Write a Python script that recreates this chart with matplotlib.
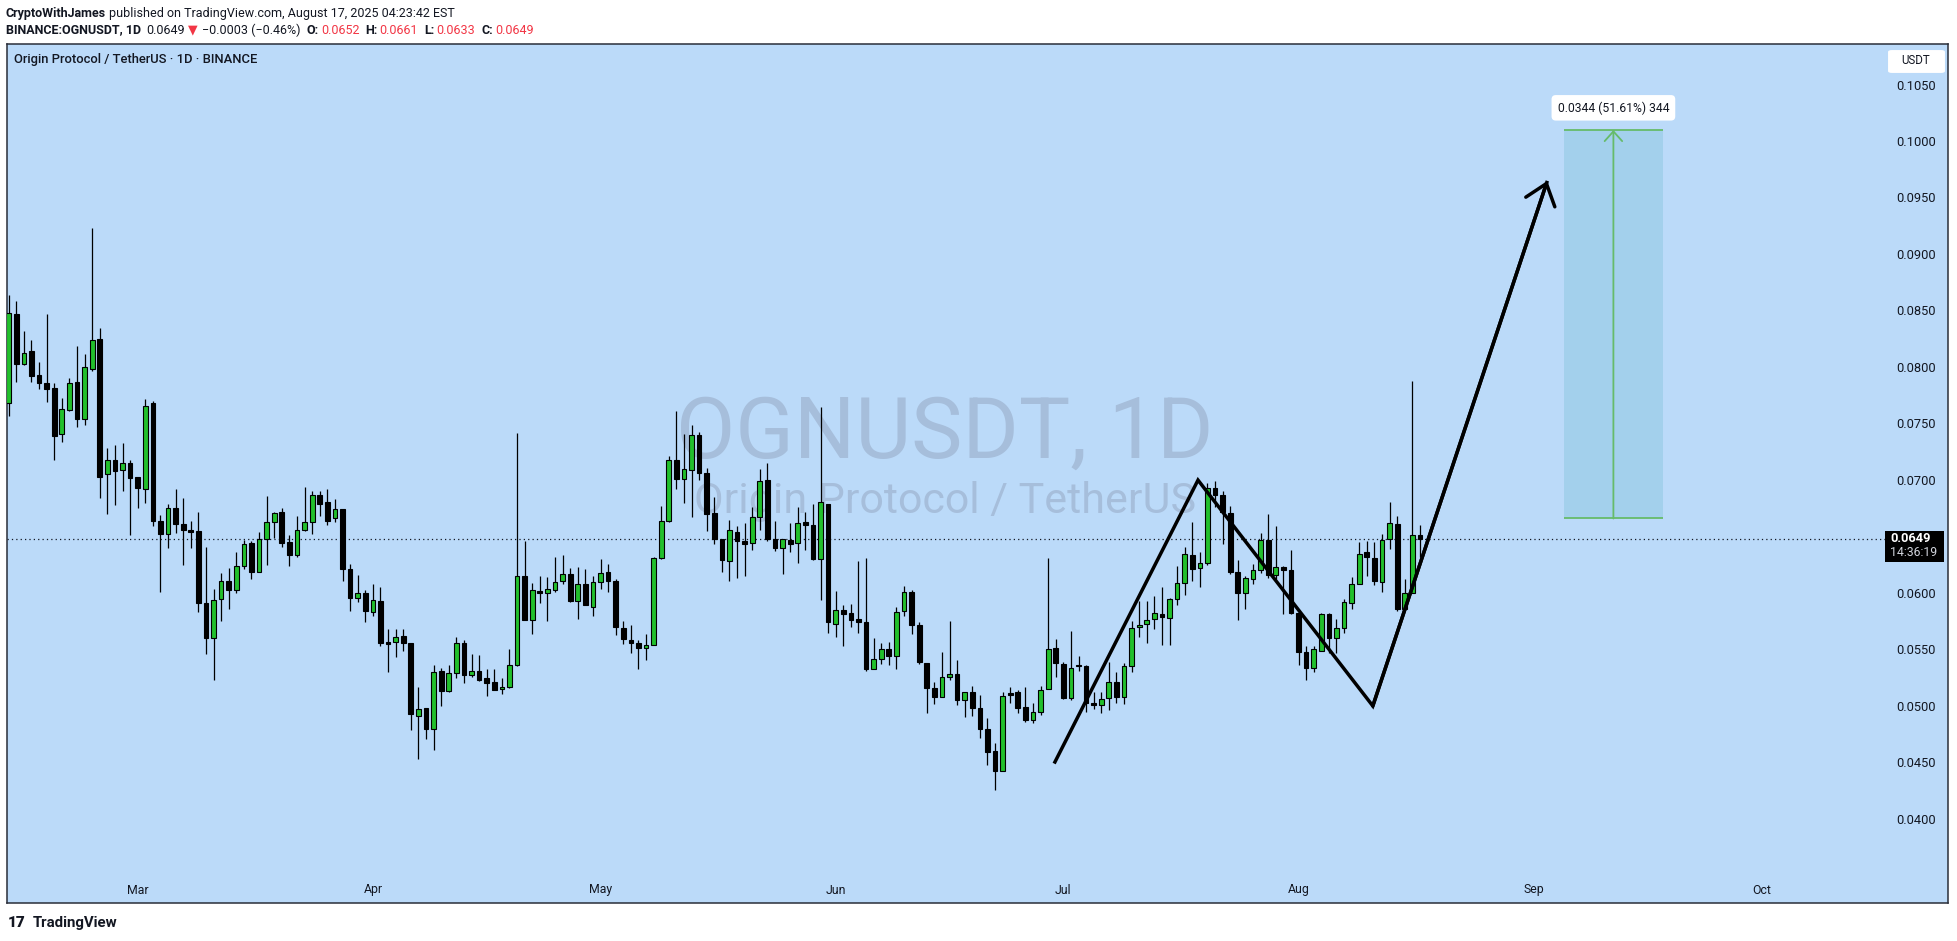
import matplotlib
matplotlib.use('Agg')
import matplotlib.pyplot as plt
import matplotlib.dates as mdates
from matplotlib.patches import Rectangle, FancyBboxPatch
from matplotlib.transforms import blended_transform_factory
import pandas as pd

# OGN/USDT diario (Binance) 12-feb-2025 .. 17-ago-2025
fechas = pd.date_range('2025-02-12', '2025-08-17', freq='D')

apertura = [0.0769, 0.0848, 0.0804, 0.0815, 0.0794, 0.0787, 0.0783, 0.0742, 0.0763, 0.0788,
            0.0755, 0.0799, 0.0826, 0.0706, 0.0719, 0.0710, 0.0716, 0.0704, 0.0693, 0.0769,
            0.0665, 0.0653, 0.0676, 0.0662, 0.0657, 0.0656, 0.0592, 0.0561, 0.0596, 0.0612,
            0.0604, 0.0625, 0.0645, 0.0620, 0.0649, 0.0664, 0.0673, 0.0646, 0.0635, 0.0657,
            0.0664, 0.0688, 0.0682, 0.0667, 0.0675, 0.0622, 0.0597, 0.0601, 0.0584, 0.0594,
            0.0558, 0.0558, 0.0563, 0.0557, 0.0492, 0.0499, 0.0481, 0.0532, 0.0514, 0.0530,
            0.0557, 0.0528, 0.0532, 0.0526, 0.0522, 0.0516, 0.0518, 0.0537, 0.0616, 0.0577,
            0.0603, 0.0601, 0.0604, 0.0612, 0.0618, 0.0594, 0.0609, 0.0589, 0.0611, 0.0620,
            0.0612, 0.0570, 0.0559, 0.0557, 0.0552, 0.0555, 0.0632, 0.0665, 0.0719, 0.0702,
            0.0710, 0.0741, 0.0707, 0.0672, 0.0649, 0.0629, 0.0655, 0.0647, 0.0645, 0.0668,
            0.0701, 0.0649, 0.0641, 0.0648, 0.0645, 0.0664, 0.0661, 0.0631, 0.0680, 0.0574,
            0.0586, 0.0583, 0.0578, 0.0575, 0.0534, 0.0543, 0.0551, 0.0545, 0.0585, 0.0602,
            0.0573, 0.0539, 0.0517, 0.0509, 0.0527, 0.0529, 0.0506, 0.0513, 0.0499, 0.0481,
            0.0461, 0.0443, 0.0512, 0.0513, 0.0500, 0.0489, 0.0496, 0.0516, 0.0552, 0.0538,
            0.0508, 0.0537, 0.0536, 0.0504, 0.0502, 0.0508, 0.0522, 0.0509, 0.0536, 0.0571,
            0.0574, 0.0578, 0.0582, 0.0579, 0.0596, 0.0610, 0.0635, 0.0623, 0.0628, 0.0694,
            0.0688, 0.0672, 0.0620, 0.0601, 0.0613, 0.0621, 0.0648, 0.0617, 0.0624, 0.0621,
            0.0583, 0.0549, 0.0535, 0.0550, 0.0582, 0.0561, 0.0570, 0.0592, 0.0609, 0.0637,
            0.0632, 0.0611, 0.0649, 0.0662, 0.0587, 0.0601, 0.0652]
maximo = [0.0865, 0.0860, 0.0833, 0.0825, 0.0806, 0.0848, 0.0787, 0.0774, 0.0791, 0.0820,
          0.0813, 0.0924, 0.0836, 0.0729, 0.0732, 0.0734, 0.0719, 0.0704, 0.0773, 0.0771,
          0.0670, 0.0680, 0.0693, 0.0685, 0.0665, 0.0673, 0.0642, 0.0605, 0.0619, 0.0623,
          0.0637, 0.0648, 0.0647, 0.0655, 0.0687, 0.0673, 0.0676, 0.0652, 0.0669, 0.0695,
          0.0691, 0.0691, 0.0693, 0.0684, 0.0675, 0.0627, 0.0617, 0.0604, 0.0609, 0.0606,
          0.0569, 0.0569, 0.0569, 0.0557, 0.0518, 0.0499, 0.0537, 0.0535, 0.0537, 0.0562,
          0.0559, 0.0547, 0.0546, 0.0534, 0.0534, 0.0526, 0.0551, 0.0743, 0.0647, 0.0610,
          0.0616, 0.0615, 0.0633, 0.0635, 0.0623, 0.0624, 0.0622, 0.0616, 0.0631, 0.0627,
          0.0613, 0.0576, 0.0573, 0.0559, 0.0565, 0.0633, 0.0678, 0.0722, 0.0762, 0.0742,
          0.0750, 0.0744, 0.0712, 0.0686, 0.0649, 0.0666, 0.0660, 0.0663, 0.0677, 0.0711,
          0.0716, 0.0665, 0.0649, 0.0663, 0.0677, 0.0673, 0.0680, 0.0766, 0.0680, 0.0603,
          0.0590, 0.0591, 0.0629, 0.0632, 0.0561, 0.0557, 0.0558, 0.0589, 0.0607, 0.0604,
          0.0575, 0.0539, 0.0522, 0.0549, 0.0576, 0.0542, 0.0513, 0.0519, 0.0511, 0.0490,
          0.0468, 0.0513, 0.0518, 0.0515, 0.0518, 0.0504, 0.0519, 0.0632, 0.0560, 0.0540,
          0.0567, 0.0545, 0.0537, 0.0513, 0.0513, 0.0540, 0.0531, 0.0539, 0.0576, 0.0594,
          0.0594, 0.0598, 0.0606, 0.0597, 0.0625, 0.0642, 0.0664, 0.0637, 0.0698, 0.0700,
          0.0691, 0.0678, 0.0630, 0.0616, 0.0627, 0.0654, 0.0671, 0.0660, 0.0625, 0.0639,
          0.0584, 0.0554, 0.0554, 0.0583, 0.0583, 0.0578, 0.0596, 0.0615, 0.0646, 0.0647,
          0.0646, 0.0653, 0.0682, 0.0669, 0.0613, 0.0789, 0.0661]
minimo = [0.0758, 0.0788, 0.0803, 0.0788, 0.0782, 0.0770, 0.0719, 0.0735, 0.0762, 0.0748,
          0.0750, 0.0798, 0.0685, 0.0671, 0.0679, 0.0691, 0.0652, 0.0676, 0.0681, 0.0660,
          0.0602, 0.0641, 0.0654, 0.0626, 0.0641, 0.0584, 0.0547, 0.0524, 0.0576, 0.0587,
          0.0601, 0.0622, 0.0613, 0.0620, 0.0626, 0.0650, 0.0642, 0.0625, 0.0633, 0.0656,
          0.0653, 0.0669, 0.0661, 0.0664, 0.0612, 0.0585, 0.0593, 0.0575, 0.0581, 0.0554,
          0.0531, 0.0544, 0.0550, 0.0480, 0.0454, 0.0472, 0.0462, 0.0501, 0.0513, 0.0526,
          0.0521, 0.0527, 0.0523, 0.0510, 0.0515, 0.0512, 0.0517, 0.0536, 0.0577, 0.0565,
          0.0592, 0.0576, 0.0602, 0.0609, 0.0593, 0.0578, 0.0590, 0.0581, 0.0605, 0.0602,
          0.0564, 0.0556, 0.0548, 0.0534, 0.0542, 0.0555, 0.0631, 0.0664, 0.0693, 0.0681,
          0.0668, 0.0701, 0.0656, 0.0644, 0.0620, 0.0612, 0.0614, 0.0616, 0.0639, 0.0657,
          0.0647, 0.0638, 0.0618, 0.0637, 0.0628, 0.0639, 0.0630, 0.0595, 0.0566, 0.0562,
          0.0554, 0.0571, 0.0566, 0.0532, 0.0534, 0.0538, 0.0537, 0.0534, 0.0581, 0.0565,
          0.0538, 0.0495, 0.0503, 0.0509, 0.0524, 0.0502, 0.0491, 0.0492, 0.0473, 0.0449,
          0.0427, 0.0443, 0.0504, 0.0495, 0.0487, 0.0486, 0.0493, 0.0516, 0.0527, 0.0507,
          0.0506, 0.0532, 0.0496, 0.0498, 0.0495, 0.0497, 0.0504, 0.0503, 0.0531, 0.0562,
          0.0557, 0.0569, 0.0555, 0.0555, 0.0590, 0.0599, 0.0612, 0.0606, 0.0626, 0.0677,
          0.0644, 0.0618, 0.0577, 0.0587, 0.0609, 0.0619, 0.0614, 0.0613, 0.0582, 0.0582,
          0.0537, 0.0524, 0.0531, 0.0550, 0.0548, 0.0548, 0.0566, 0.0587, 0.0609, 0.0616,
          0.0608, 0.0602, 0.0640, 0.0585, 0.0587, 0.0601, 0.0633]
cierre = [0.0849, 0.0804, 0.0814, 0.0793, 0.0787, 0.0782, 0.0740, 0.0764, 0.0787, 0.0755,
          0.0801, 0.0825, 0.0704, 0.0719, 0.0709, 0.0716, 0.0703, 0.0694, 0.0767, 0.0665,
          0.0653, 0.0676, 0.0662, 0.0657, 0.0655, 0.0592, 0.0561, 0.0595, 0.0612, 0.0604,
          0.0625, 0.0644, 0.0620, 0.0649, 0.0664, 0.0672, 0.0645, 0.0635, 0.0657, 0.0664,
          0.0688, 0.0680, 0.0665, 0.0675, 0.0622, 0.0597, 0.0601, 0.0585, 0.0595, 0.0557,
          0.0556, 0.0562, 0.0557, 0.0494, 0.0498, 0.0481, 0.0531, 0.0514, 0.0530, 0.0557,
          0.0528, 0.0532, 0.0524, 0.0521, 0.0515, 0.0518, 0.0537, 0.0616, 0.0577, 0.0604,
          0.0601, 0.0605, 0.0611, 0.0618, 0.0594, 0.0609, 0.0590, 0.0611, 0.0619, 0.0612,
          0.0571, 0.0560, 0.0557, 0.0552, 0.0555, 0.0632, 0.0665, 0.0719, 0.0702, 0.0711,
          0.0741, 0.0707, 0.0671, 0.0649, 0.0630, 0.0657, 0.0647, 0.0644, 0.0668, 0.0700,
          0.0649, 0.0641, 0.0649, 0.0644, 0.0663, 0.0661, 0.0631, 0.0682, 0.0575, 0.0586,
          0.0582, 0.0577, 0.0575, 0.0534, 0.0543, 0.0551, 0.0545, 0.0584, 0.0602, 0.0573,
          0.0540, 0.0517, 0.0509, 0.0527, 0.0529, 0.0506, 0.0513, 0.0499, 0.0481, 0.0460,
          0.0443, 0.0510, 0.0511, 0.0499, 0.0489, 0.0496, 0.0515, 0.0551, 0.0539, 0.0508,
          0.0535, 0.0536, 0.0504, 0.0502, 0.0507, 0.0522, 0.0509, 0.0536, 0.0570, 0.0573,
          0.0577, 0.0583, 0.0580, 0.0596, 0.0610, 0.0636, 0.0622, 0.0628, 0.0694, 0.0688,
          0.0673, 0.0620, 0.0601, 0.0614, 0.0621, 0.0648, 0.0617, 0.0624, 0.0621, 0.0583,
          0.0549, 0.0535, 0.0551, 0.0582, 0.0561, 0.0570, 0.0593, 0.0609, 0.0636, 0.0633,
          0.0612, 0.0648, 0.0663, 0.0587, 0.0601, 0.0652, 0.0649]

ultimo_precio = 0.0649
niveles_precio = [0.1050, 0.1000, 0.0950, 0.0900, 0.0850, 0.0800, 0.0750, 0.0700,
                  0.0600, 0.0550, 0.0500, 0.0450, 0.0400]
meses = ['2025-03-01', '2025-04-01', '2025-05-01', '2025-06-01',
         '2025-07-01', '2025-08-01', '2025-09-01', '2025-10-01']
meses_txt = ['Mar', 'Apr', 'May', 'Jun', 'Jul', 'Aug', 'Sep', 'Oct']

# zigzag dibujado a mano + flecha
zz_fechas = ['2025-06-29 19:00', '2025-07-18 18:00', '2025-08-10 19:00', '2025-09-02 19:00']
zz_precios = [0.0450, 0.0701, 0.0501, 0.0966]

# caja de proyeccion
proy_ini, proy_fin = '2025-09-05', '2025-09-18'
proy_base, proy_obj = 0.0667, 0.1011
proy_txt = '0.0344 (51.61%) 344'

# colores
FONDO = '#bbdaf9'
VERDE = '#22c02c'
ROJO = '#f23645'
TXT = '#131722'
W, H = 1957, 941

plt.rcParams['font.family'] = ['Roboto', 'DejaVu Sans']

fig = plt.figure(figsize=(W / 100, H / 100), dpi=100)
fig.patch.set_facecolor('white')

def fx(x):
    return x / W

def fy(y):
    return 1 - y / H

ax = fig.add_axes([fx(7), fy(903), (1948 - 7) / W, (903 - 44) / H])
ax.set_facecolor(FONDO)
for s in ax.spines.values():
    s.set_color('#2a2e39')
    s.set_linewidth(1.1)
ax.set_xticks([])
ax.set_yticks([])

x = mdates.date2num(fechas)
x0 = x[0]
ax.set_xlim(x0 - 0.224, x0 + 255.6)
ax.set_ylim(0.03265, 0.10872)

# velas
ax.vlines(x, minimo, maximo, color='black', lw=0.9, zorder=2)
bases = [min(o, c) for o, c in zip(apertura, cierre)]
altos = [max(abs(c - o), 0.00012) for o, c in zip(apertura, cierre)]
colores = [VERDE if c >= o else 'black' for o, c in zip(apertura, cierre)]
ax.bar(x, altos, bottom=bases, width=0.62, color=colores, edgecolor='black',
       linewidth=0.8, zorder=3)

# marca de agua
ax.text(fx(945), fy(434), 'OGNUSDT, 1D', transform=fig.transFigure, fontsize=62,
        color='#a6bedb', ha='center', va='center', zorder=0.5)
ax.text(fx(945), fy(502), 'Origin Protocol / TetherUS', transform=fig.transFigure,
        fontsize=31, color='#a6bedb', ha='center', va='center', zorder=0.5)

# linea de ultimo precio
ax.axhline(ultimo_precio, xmin=0, xmax=(1885 - 7) / (1948 - 7), color=TXT,
           lw=0.9, ls=(0, (1, 2.5)), zorder=1)

# zigzag
zx = mdates.date2num(pd.to_datetime(zz_fechas))
ax.plot(zx, zz_precios, color='black', lw=2.5, solid_joinstyle='miter',
        solid_capstyle='butt', zorder=4)
ax.annotate('', xy=(zx[-1], zz_precios[-1]), xytext=(zx[-2], zz_precios[-2]),
            arrowprops=dict(arrowstyle='->,head_length=0.7,head_width=0.55',
                            lw=2.5, color='black', shrinkA=0, shrinkB=0,
                            mutation_scale=20), zorder=4)

# caja de proyeccion
p0 = mdates.date2num(pd.Timestamp(proy_ini))
p1 = mdates.date2num(pd.Timestamp(proy_fin))
pc = (p0 + p1) / 2
ax.add_patch(Rectangle((p0, proy_base), p1 - p0, proy_obj - proy_base,
                       facecolor='#a3d0ec', edgecolor='none', zorder=1.5))
ax.hlines([proy_base, proy_obj], p0, p1, color='#66bb6a', lw=1.3, zorder=2)
ax.annotate('', xy=(pc, proy_obj), xytext=(pc, proy_base),
            arrowprops=dict(arrowstyle='->,head_length=0.5,head_width=0.45',
                            lw=1.3, color='#66bb6a', shrinkA=0, shrinkB=0,
                            mutation_scale=14), zorder=2)
ax.annotate(proy_txt, xy=(pc, proy_obj), xytext=(0, 16), textcoords='offset points',
            ha='center', va='center', fontsize=8.7, color=TXT, zorder=6,
            bbox=dict(boxstyle='round,pad=0.5,rounding_size=0.35', fc='white', ec='none'))

# escala de precios (dentro del marco)
bt = blended_transform_factory(fig.transFigure, ax.transData)
for nv in niveles_precio:
    ax.text(fx(1916), nv, f'{nv:.4f}', transform=bt, ha='center', va='center',
            fontsize=9.3, color=TXT, zorder=6)
ax.add_patch(Rectangle((fx(1885), fy(562)), (1944 - 1885) / W, 31 / H,
                       transform=fig.transFigure, facecolor='black', zorder=6))
ax.text(fx(1890), fy(539), f'{ultimo_precio:.4f}', transform=fig.transFigure,
        ha='left', va='center', fontsize=9.3, fontweight='bold', color='white', zorder=7)
ax.text(fx(1890), fy(553), '14:36:19', transform=fig.transFigure,
        ha='left', va='center', fontsize=8.8, color='#d1d4dc', zorder=7)
ax.add_patch(FancyBboxPatch((fx(1890), fy(72)), (1943 - 1890) / W, 21 / H,
                            boxstyle='round,pad=0.001,rounding_size=0.002',
                            transform=fig.transFigure, facecolor='white',
                            edgecolor='none', zorder=6))
ax.text(fx(1916), fy(61), 'USDT', transform=fig.transFigure, ha='center', va='center',
        fontsize=8.3, color=TXT, zorder=7)

# meses
bm = blended_transform_factory(ax.transData, fig.transFigure)
for m, t in zip(meses, meses_txt):
    ax.text(mdates.date2num(pd.Timestamp(m)), fy(890), t, transform=bm, ha='center',
            va='center', fontsize=8.8, color=TXT)

ax.text(fx(14), fy(60), 'Origin Protocol / TetherUS · 1D · BINANCE',
        transform=fig.transFigure, fontsize=9.4, fontweight='medium', color=TXT,
        ha='left', va='center')

# cabecera
rend = fig.canvas.get_renderer()

def linea(xi, yi, partes, size=9.0):
    pos = xi
    for texto, color, peso, gap in partes:
        t = fig.text(fx(pos), fy(yi), texto, color=color, fontweight=peso,
                     fontsize=size, ha='left', va='center')
        pos = t.get_window_extent(rend).x1 + gap

linea(6, 13, [('CryptoWithJames', TXT, 'bold', 3),
              ('published on TradingView.com, August 17, 2025 04:23:42 EST', TXT, 'normal', 0)])
linea(6, 30, [('BINANCE:OGNUSDT, 1D', TXT, 'bold', 5),
              ('0.0649', TXT, 'normal', 3),
              ('▼', ROJO, 'normal', 5),
              ('−0.0003 (−0.46%)', TXT, 'normal', 6),
              ('O:', TXT, 'bold', 2), ('0.0652', ROJO, 'normal', 6),
              ('H:', TXT, 'bold', 2), ('0.0661', ROJO, 'normal', 6),
              ('L:', TXT, 'bold', 2), ('0.0633', ROJO, 'normal', 6),
              ('C:', TXT, 'bold', 2), ('0.0649', ROJO, 'normal', 0)])

fig.text(fx(8), fy(923), '17', fontsize=11, fontweight='heavy', color=TXT,
         ha='left', va='center')
fig.text(fx(33), fy(923), 'TradingView', fontsize=10.8, fontweight='bold', color=TXT,
         ha='left', va='center')

fig.savefig('out.png', dpi=100)
